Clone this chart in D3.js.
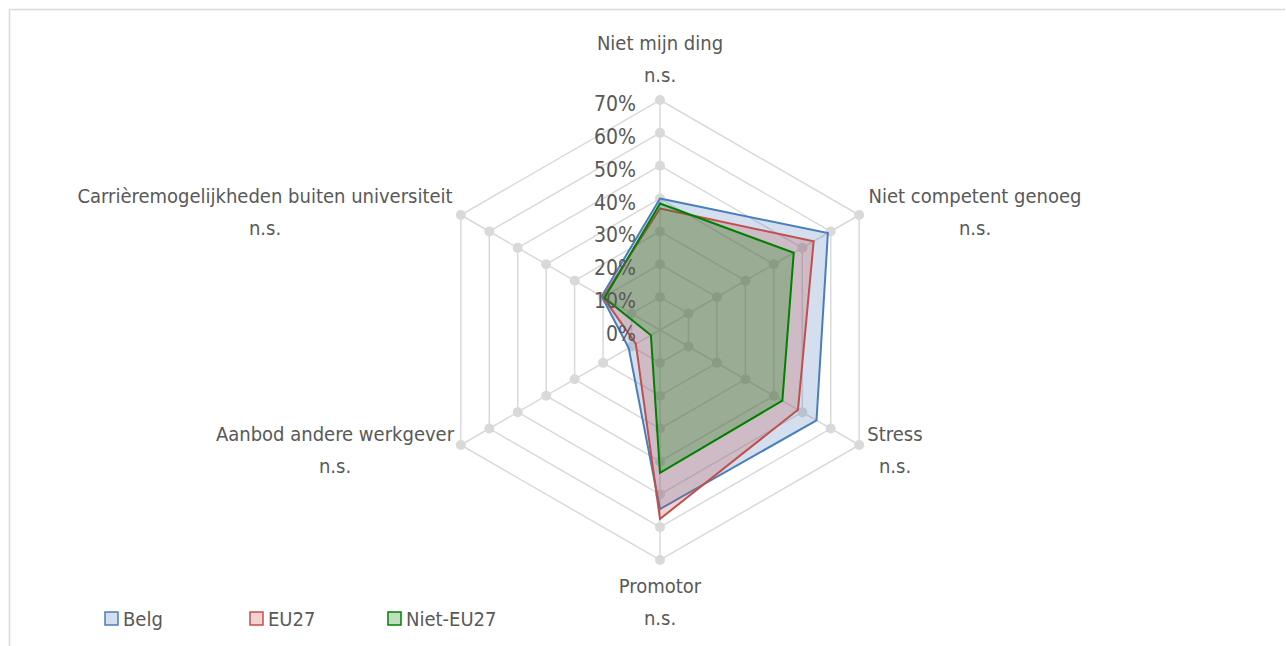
<!DOCTYPE html>
<html><head><meta charset="utf-8">
<script src="https://cdn.jsdelivr.net/npm/d3@7"></script>
<style>
body{margin:0;background:#fff;}
svg{display:block;}
text{font-family:"Liberation Sans Narrow","DejaVu Sans Condensed","Noto Sans",sans-serif;fill:#595959;}
</style></head><body>
<svg id="c" width="1286" height="646"></svg>
<script>
const categories = ["Niet mijn ding","Niet competent genoeg","Stress","Promotor","Aanbod andere werkgever","Carrièremogelijkheden buiten universiteit"];
const significance = ["n.s.","n.s.","n.s.","n.s.","n.s.","n.s."];
const seriesNames = ["Belg","EU27","Niet-EU27"];
const belg = [40, 59, 55, 54.5, 11, 20.5];
const eu27 = [37, 54, 48.5, 57.5, 8.5, 20];
const nietEu27 = [38.5, 47, 43, 43.5, 3.2, 19.5];
const tickValues = [0,10,20,30,40,50,60,70];
const tickLabels = ["0%","10%","20%","30%","40%","50%","60%","70%"];

const strokeColors = ["#4a7ebb","#c0504d","#008000"];
const fillColors = ["rgba(79,129,189,0.25)","rgba(192,80,77,0.25)","rgba(0,128,0,0.25)"];
const legendFill = ["#d3dff0","#f2d3d2","#bfe0bf"];

const svg = d3.select("#c");
const cx = 660, cy = 330, R = 230;
const r = d3.scaleLinear().domain([0,70]).range([0,R]);
const n = categories.length;
const ang = i => i * 2*Math.PI/n;
const pt = (i,v) => [cx + r(v)*Math.sin(ang(i)), cy - r(v)*Math.cos(ang(i))];

// frame
svg.append("path").attr("d","M9.5,660 L9.5,9.5 L1285,9.5").attr("fill","none").attr("stroke","#d9d9d9").attr("stroke-width",1.5);
// cut-off blue title (only its bottom edge is visible in the reference)
svg.append("text").attr("x",60).attr("y",-2).attr("font-size",18).style("fill","#4472c4").text("(            )");

// grid
const g = svg.append("g");
tickValues.slice(1).forEach(t=>{
  const pts = d3.range(n).map(i=>pt(i,t));
  g.append("path").attr("d", d3.line()(pts)+"Z").attr("fill","none").attr("stroke","#d9d9d9").attr("stroke-width",1.5);
});
d3.range(n).forEach(i=>{
  const [x,y]=pt(i,70);
  g.append("line").attr("x1",cx).attr("y1",cy).attr("x2",x).attr("y2",y).attr("stroke","#d9d9d9").attr("stroke-width",1.5);
});
tickValues.slice(1).forEach(t=>{
  d3.range(n).forEach(i=>{
    const [x,y]=pt(i,t);
    g.append("circle").attr("cx",x).attr("cy",y).attr("r",5).attr("fill","#d9d9d9");
  });
});

// series
[belg,eu27,nietEu27].forEach((s,k)=>{
  const pts = s.map((v,i)=>pt(i,v));
  svg.append("path").attr("d", d3.line()(pts)+"Z")
    .attr("fill",fillColors[k]).attr("stroke",strokeColors[k]).attr("stroke-width",2).attr("stroke-linejoin","miter");
});

// tick labels
tickValues.forEach((t,i)=>{
  svg.append("text").attr("x",636).attr("y",cy - r(t)+11).attr("text-anchor","end")
    .attr("font-size",21).text(tickLabels[i]);
});

// category labels
const labelPos = [
  {x:660,y:50},
  {x:975,y:203},
  {x:895,y:441},
  {x:660,y:593},
  {x:335,y:441},
  {x:265,y:203}
];
categories.forEach((c,i)=>{
  const p = labelPos[i];
  svg.append("text").attr("x",p.x).attr("y",p.y).attr("text-anchor","middle").attr("font-size",20).text(c);
  svg.append("text").attr("x",p.x).attr("y",p.y+32).attr("text-anchor","middle").attr("font-size",20).text(significance[i]);
});

// legend
const legX = [105,250,388];
seriesNames.forEach((s,k)=>{
  svg.append("rect").attr("x",legX[k]).attr("y",612).attr("width",13).attr("height",13)
    .attr("fill",legendFill[k]).attr("stroke",strokeColors[k]).attr("stroke-width",1.5);
  svg.append("text").attr("x",legX[k]+18).attr("y",626).attr("font-size",20).text(s);
});
</script>
</body></html>
